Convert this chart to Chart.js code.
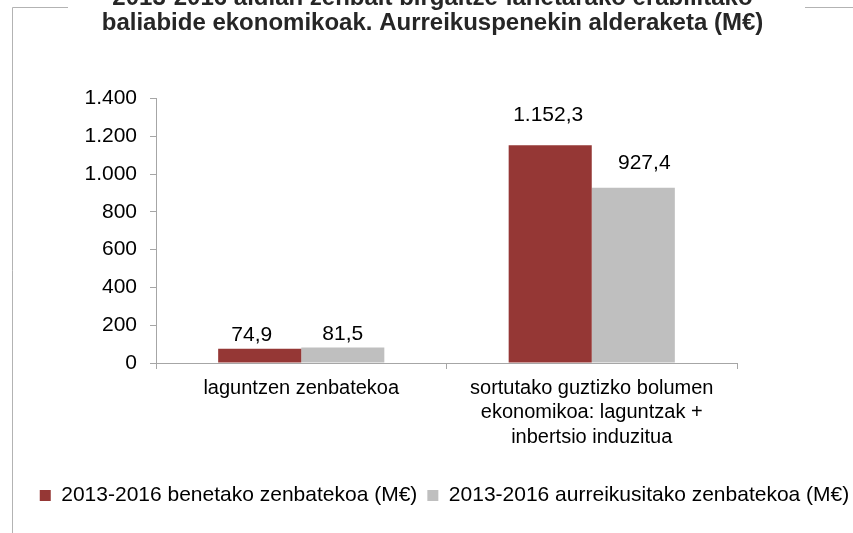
<!DOCTYPE html>
<html><head><meta charset="utf-8">
<script src="https://cdn.jsdelivr.net/npm/chart.js@4.4.0/dist/chart.umd.min.js"></script>
<style>
html,body{margin:0;padding:0;background:#fff;}
#wrap{position:relative;width:853px;height:533px;overflow:hidden;background:#fff;}
#c{position:absolute;left:0;top:-16px;}
</style></head><body>
<div id="wrap"><canvas id="c" width="853" height="549" style="width:853px;height:549px"></canvas></div>
<script>
// ---- data ----
const titleLines = ["2013-2016 aldian zenbait birgaitze-lanetarako erabilitako", "baliabide ekonomikoak. Aurreikuspenekin alderaketa (M€)"];
const categories = [["laguntzen zenbatekoa"], ["sortutako guztizko bolumen", "ekonomikoa: laguntzak +", "inbertsio induzitua"]];
const seriesNames = ["2013-2016 benetako zenbatekoa (M€)", "2013-2016 aurreikusitako zenbatekoa (M€)"];
const actualValues = [74.9, 1152.3];
const plannedValues = [81.5, 927.4];
const yMin = 0, yMax = 1400, yStep = 200;

// ---- style ----
const colors = ["#953735", "#BFBFBF"];
const axisColor = "#A6A6A6";
const labelShift = [[{dx: -8, dy: 14}, {dx: -2, dy: 30}], [{dx: 0, dy: 13}, {dx: 11, dy: 25}]];

function fmt(v, dec) {
  const s = v.toFixed(dec);
  const parts = s.split('.');
  const intPart = parts[0].replace(/\B(?=(\d{3})+(?!\d))/g, '.');
  return parts.length > 1 ? intPart + ',' + parts[1] : intPart;
}

const framePlugin = {
  id: 'frame',
  beforeDraw(chart) {
    const ctx = chart.ctx;
    ctx.save();
    ctx.fillStyle = '#fff';
    ctx.fillRect(0, 0, chart.width, chart.height);
    ctx.strokeStyle = '#B3B3B3';
    ctx.lineWidth = 1;
    ctx.beginPath();
    ctx.moveTo(12.5, 549); ctx.lineTo(12.5, 23.5); ctx.lineTo(68, 23.5);
    ctx.moveTo(805, 23.5); ctx.lineTo(853, 23.5);
    ctx.stroke();
    ctx.restore();
  }
};

const labelPlugin = {
  id: 'barLabels',
  afterDatasetsDraw(chart) {
    const ctx = chart.ctx;
    ctx.save();
    ctx.font = '21px "Liberation Sans", Arial, sans-serif';
    ctx.fillStyle = '#000';
    ctx.textAlign = 'center';
    ctx.textBaseline = 'middle';
    chart.data.datasets.forEach((ds, di) => {
      const meta = chart.getDatasetMeta(di);
      meta.data.forEach((bar, i) => {
        const sh = labelShift[di][i];
        ctx.fillText(fmt(ds.data[i], 1), bar.x + sh.dx, bar.y - sh.dy);
      });
    });
    ctx.restore();
  }
};

const legendShift = {
  id: 'legendShift',
  afterLayout(chart) {
    if (chart.legend) { chart.legend.left += 12; chart.legend.right += 12; }
  }
};

new Chart(document.getElementById('c'), {
  type: 'bar',
  data: {
    labels: categories,
    datasets: [
      {label: seriesNames[0], data: actualValues, backgroundColor: colors[0], categoryPercentage: 0.572, barPercentage: 1.0},
      {label: seriesNames[1], data: plannedValues, backgroundColor: colors[1], categoryPercentage: 0.572, barPercentage: 1.0}
    ]
  },
  plugins: [framePlugin, labelPlugin, legendShift],
  options: {
    responsive: false,
    animation: false,
    layout: {padding: {left: 12, right: 0, top: 0, bottom: 17}},
    plugins: {
      title: {
        display: true,
        text: titleLines,
        color: '#262626',
        font: {family: '"Liberation Sans", Arial, sans-serif', size: 24, weight: 'bold', lineHeight: 1.05},
        padding: {top: 2, bottom: 62}
      },
      legend: {
        display: true,
        position: 'bottom',
        labels: {
          color: '#000',
          font: {family: '"Liberation Sans", Arial, sans-serif', size: 21},
          boxWidth: 11, boxHeight: 11, padding: 10
        }
      },
      tooltip: {enabled: false}
    },
    scales: {
      x: {
        grid: {display: true, drawOnChartArea: false, drawTicks: true, tickLength: 6, color: axisColor, offset: true},
        border: {display: true, color: axisColor, width: 1},
        ticks: {color: '#000', font: {family: '"Liberation Sans", Arial, sans-serif', size: 20, lineHeight: 1.22}, padding: 7, maxRotation: 0, autoSkip: false},
        afterFit(s) { s.height = 112; }
      },
      y: {
        min: yMin, max: yMax,
        grid: {display: true, drawOnChartArea: false, drawTicks: true, tickLength: 6, color: axisColor},
        border: {display: true, color: axisColor, width: 1},
        ticks: {stepSize: yStep, color: '#000', font: {family: '"Liberation Sans", Arial, sans-serif', size: 21}, padding: 13, callback: v => fmt(v, 0)},
        afterFit(s) { s.width = 144; }
      },
      y2: {
        position: 'right',
        display: true,
        grid: {display: false},
        border: {display: false},
        ticks: {display: false},
        afterFit(s) { s.width = 116; }
      }
    }
  }
});
</script>
</body></html>
